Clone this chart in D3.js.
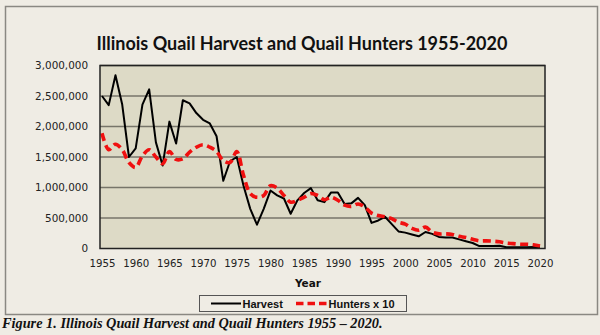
<!DOCTYPE html>
<html><head><meta charset="utf-8">
<script src="https://cdn.jsdelivr.net/npm/d3@7/dist/d3.min.js"></script>
<style>html,body{margin:0;padding:0;background:#efece4;}svg{display:block;}</style>
</head><body><svg id="c" width="600" height="335"></svg>
<script>
const years = d3.range(1955, 2021);
const harvest = [2500000,2350000,2840000,2360000,1500000,1640000,2360000,2610000,1740000,1360000,
2080000,1720000,2430000,2380000,2220000,2110000,2050000,1840000,1110000,1430000,
1500000,1030000,650000,390000,650000,950000,870000,820000,570000,790000,
910000,990000,790000,760000,920000,920000,730000,740000,830000,710000,
420000,460000,520000,400000,280000,260000,230000,200000,270000,240000,
190000,180000,180000,150000,120000,90000,40000,40000,40000,45000,
20000,20000,20000,22000,25000,20000];
const hunters10 = [1890000,1620000,1710000,1620000,1410000,1330000,1520000,1620000,1500000,1390000,
1590000,1460000,1470000,1580000,1660000,1700000,1660000,1590000,1440000,1410000,
1590000,1200000,900000,840000,870000,1030000,990000,870000,760000,790000,
840000,900000,870000,800000,840000,790000,710000,690000,730000,680000,
580000,540000,520000,490000,430000,400000,330000,300000,350000,270000,
240000,240000,230000,200000,180000,150000,125000,125000,120000,110000,
90000,80000,70000,70000,60000,40000];
const yTicks = [0,500000,1000000,1500000,2000000,2500000,3000000];
const xTickYears = d3.range(1955, 2021, 5);

const svg = d3.select('#c');
const L = 100, R = 545, T = 65.5, B = 248.5;
const x = d3.scaleLinear().domain([1955, 2020]).range([102, 540]);
const y = d3.scaleLinear().domain([0, 3000000]).range([B, T]);

// outer chart border
svg.append('rect').attr('x',5.5).attr('y',6.5).attr('width',592).attr('height',308)
  .attr('fill','#efece4').attr('stroke','#8a8882').attr('stroke-width',1.5);

// title
svg.append('text').attr('x',302).attr('y',50).attr('text-anchor','middle')
  .attr('font-family','Lato, "Open Sans", sans-serif').attr('font-weight','bold')
  .attr('font-size',18).attr('fill','#111').text('Illinois Quail Harvest and Quail Hunters 1955-2020');

// plot area
svg.append('rect').attr('x',L).attr('y',T).attr('width',R-L).attr('height',B-T)
  .attr('fill','#dddac6');

// grid
svg.append('g').selectAll('line').data(yTicks.filter(d=>d>0)).join('line')
  .attr('x1',L).attr('x2',R).attr('y1',d=>y(d)).attr('y2',d=>y(d))
  .attr('stroke','#77756a').attr('stroke-width',1.6);

// y axis labels
const yAxis = d3.axisLeft(y).tickValues(yTicks).tickSize(0).tickPadding(0)
  .tickFormat(d3.format(','));
const gy = svg.append('g').attr('transform',`translate(88,0)`).call(yAxis);
gy.select('.domain').remove();
gy.selectAll('text').attr('font-family','"DejaVu Sans", Verdana, sans-serif')
  .attr('font-size',10.4).attr('fill','#222');

// x axis labels
const xAxis = d3.axisBottom(x).tickValues(xTickYears).tickSize(0).tickPadding(0)
  .tickFormat(d3.format('d'));
const gx = svg.append('g').attr('transform',`translate(0,${B+11})`).call(xAxis);
gx.select('.domain').remove();
gx.selectAll('text').attr('font-family','"DejaVu Sans", Verdana, sans-serif')
  .attr('font-size',10.2).attr('fill','#222');

// axis title
svg.append('text').attr('x',308).attr('y',286.5).attr('text-anchor','middle')
  .attr('font-family','"DejaVu Sans", Verdana, sans-serif').attr('font-weight','bold')
  .attr('font-size',10.5).attr('fill','#111').text('Year');

// lines
const line = d3.line().x((d,i)=>x(years[i])).y(d=>y(d));
const smooth = d3.line().x((d,i)=>x(years[i])).y(d=>y(d)).curve(d3.curveCatmullRom);
svg.append('path').datum(harvest).attr('d',line).attr('fill','none')
  .attr('stroke','#000').attr('stroke-width',2).attr('stroke-linejoin','round');
svg.append('path').datum(hunters10).attr('d',smooth).attr('fill','none')
  .attr('stroke','#f01010').attr('stroke-width',3.6).attr('stroke-dasharray','8,4.5');

// plot border
svg.append('rect').attr('x',L).attr('y',T).attr('width',R-L).attr('height',B-T)
  .attr('fill','none').attr('stroke','#222').attr('stroke-width',1.5);

// legend
const lg = svg.append('g');
lg.append('rect').attr('x',199.5).attr('y',295.5).attr('width',207).attr('height',16)
  .attr('fill','#efece4').attr('stroke','#555').attr('stroke-width',1);
lg.append('line').attr('x1',211).attr('x2',241).attr('y1',303.5).attr('y2',303.5)
  .attr('stroke','#000').attr('stroke-width',2);
lg.append('line').attr('x1',296).attr('x2',327).attr('y1',303.5).attr('y2',303.5)
  .attr('stroke','#f01010').attr('stroke-width',3.6).attr('stroke-dasharray','7.5,4');
const lgFont = '"Liberation Sans", Arial, sans-serif';
lg.append('text').attr('x',242.5).attr('y',307.5).attr('font-family',lgFont)
  .attr('font-weight','bold').attr('font-size',11).attr('fill','#111').text('Harvest');
lg.append('text').attr('x',328.5).attr('y',307.5).attr('font-family',lgFont)
  .attr('font-weight','bold').attr('font-size',11).attr('fill','#111').text('Hunters x 10');

// caption
svg.append('text').attr('x',2).attr('y',328).attr('font-family','"Liberation Serif", "Times New Roman", serif')
  .attr('font-weight','bold').attr('font-style','italic').attr('font-size',14.3).attr('fill','#111')
  .text('Figure 1. Illinois Quail Harvest and Quail Hunters 1955 \u2013 2020.');
</script></body></html>
